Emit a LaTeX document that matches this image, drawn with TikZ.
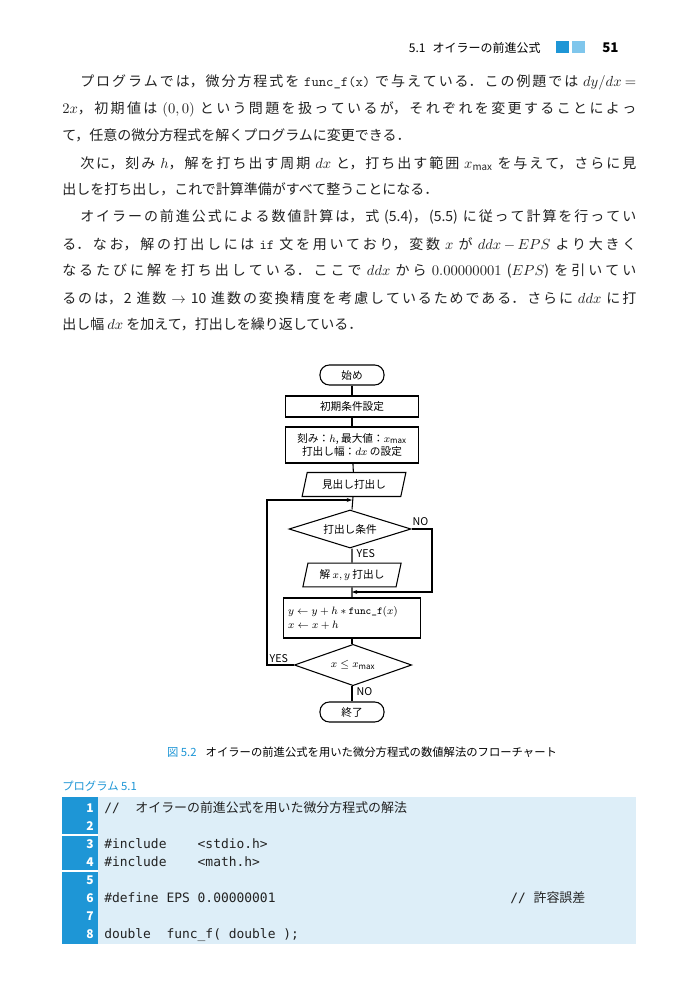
\documentclass[tikz,border=0pt]{standalone}
\usepackage{fontspec}
\setmainfont{Noto Sans CJK JP}
\newfontfamily\codefont{DejaVu Sans Mono}
\usetikzlibrary{shapes.geometric,arrows.meta}
\XeTeXlinebreaklocale "ja"
\XeTeXlinebreakskip=0pt plus 3pt
\definecolor{bl}{HTML}{1E96D6}
\definecolor{bll}{HTML}{7FC6EC}
\definecolor{codebg}{HTML}{DDEEF8}
\definecolor{txt}{HTML}{222222}
\newcommand{\jline}[2]{\parbox{#1}{\parindent=0pt\parfillskip=0pt\tolerance=10000\hbadness=10000\spaceskip=0.3em plus 0.1em\xspaceskip=0.3em\medmuskip=3mu\thickmuskip=4mu #2}}
\newcommand{\fl}[1]{\jline{430.5pt}{#1}}
\newcommand{\il}[1]{\jline{417pt}{#1}}
\begin{document}
\begin{tikzpicture}[x=0.75pt,y=-0.75pt,
  ln/.style={anchor=base west,inner sep=0,font=\fontsize{10.5}{12}\selectfont,text=txt},
  fbox/.style={draw,thick,minimum width=100pt,align=center,font=\fontsize{8}{10}\selectfont,inner sep=2pt},
  term/.style={draw,thick,rounded corners=7pt,minimum width=48pt,minimum height=15pt,font=\fontsize{8}{9}\selectfont},
  io/.style={draw,thick,trapezium,trapezium left angle=78,trapezium right angle=102,minimum height=15pt,font=\fontsize{8}{9}\selectfont},
  dec/.style={draw,thick,diamond,inner sep=0pt,font=\fontsize{8}{9}\selectfont},
  lab/.style={font=\fontsize{8}{9}\selectfont,inner sep=1pt},
  cd/.style={anchor=base west,inner sep=0,font=\codefont\fontsize{9.7}{10}\selectfont,text=txt},
  num/.style={anchor=base east,inner sep=0,text=white,font=\bfseries\fontsize{9}{10}\selectfont},
  line/.style={thick},
  arr/.style={thick,-{Stealth[length=4pt]}}]
\useasboundingbox (0,0) rectangle (699,1000);
\fill[white] (0,0) rectangle (699,1000);
% header
\node[anchor=base east,inner sep=0,font=\fontsize{9}{10}\selectfont] (hd) at (541,52) {5.1\hspace{0.6em}オイラーの前進公式};
\fill[bl] (556,41) rectangle (569,53);
\fill[bll] (572,41) rectangle (585,53);
\node[anchor=base west,inner sep=0,font=\bfseries\fontsize{10}{10}\selectfont] (pg) at (602,52) {51};
% body
\node[ln] (l1) at (80,86) {\il{プログラムでは，微分方程式を \texttt{func\_f(x)} で与えている．この例題では $dy/dx=$}};
\node[ln] (l2) at (62,113) {\fl{$2x$，初期値は $(0,0)$ という問題を扱っているが，それぞれを変更することによっ}};
\node[ln] (l3) at (62,140) {て，任意の微分方程式を解くプログラムに変更できる．};
\node[ln] (l4) at (80,167) {\il{次に，刻み $h$，解を打ち出す周期 $dx$ と，打ち出す範囲 $x_{\max}$ を与えて，さらに見}};
\node[ln] (l5) at (62,194) {出しを打ち出し，これで計算準備がすべて整うことになる．};
\node[ln] (l6) at (80,221) {\il{オイラーの前進公式による数値計算は，式 (5.4)，(5.5) に従って計算を行ってい}};
\node[ln] (l7) at (62,248) {\fl{る．なお，解の打出しには \texttt{if} 文を用いており，変数 $x$ が $ddx-EPS$ より大きく}};
\node[ln] (l8) at (62,275) {\fl{なるたびに解を打ち出している．ここで $ddx$ から $0.00000001$ ($EPS$) を引いてい}};
\node[ln] (l9) at (62,302) {\fl{るのは，2 進数 $\rightarrow$ 10 進数の変換精度を考慮しているためである．さらに $ddx$ に打}};
\node[ln] (l10) at (62,329) {出し幅 $dx$ を加えて，打出しを繰り返している．};
% flowchart
\node[term] (st) at (352,375) {始め};
\node[fbox,minimum height=15.75pt,minimum width=100pt] (init) at (352,406.5) {初期条件設定};
\node[fbox,minimum height=27pt,minimum width=100pt,font=\fontsize{8}{10}\selectfont] (set) at (352,445) {刻み：$h$, 最大値：$x_{\max}$\\打出し幅：$dx$ の設定};
\node[io,minimum width=78pt] (hdr) at (354,484.5) {見出し打出し};
\coordinate (j1) at (352,500);
\node[dec,aspect=3.2,minimum width=91.5pt,minimum height=28.5pt] (c1) at (350,529) {打出し条件};
\node[io,minimum width=74pt] (out) at (352,575) {解 $x,y$ 打出し};
\coordinate (j2) at (352,592);
\node[fbox,minimum height=30pt,minimum width=103pt,align=left,text width=96pt] (upd) at (352,618) {$y\leftarrow y+h\ast{}$\texttt{func\_f}$(x)$\\$x\leftarrow x+h$};
\node[dec,aspect=2.85,minimum width=88pt,minimum height=31pt] (c2) at (353,665) {$x\le x_{\max}$};
\node[term] (en) at (352,712) {終了};
\draw[line] (st) -- (init);
\draw[line] (init) -- (set);
\draw[line] (set) -- (hdr);
\draw[line] (hdr) -- (c1.north -| j1);
\draw[line] (c1.south -| out) -- (out);
\draw[line] (out) -- (upd);
\draw[line] (upd) -- (c2.north -| upd);
\draw[line] (c2.south -| en) -- (en);
\draw[arr] (c1.east) -- (432,529) |- (j2);
\draw[arr] (c2.west) -- (267,665) |- (j1);
\node[lab,anchor=south west] at (411,527) {NO};
\node[lab,anchor=north west] at (355,548) {YES};
\node[lab,anchor=south west] at (268,664) {YES};
\node[lab,anchor=north west] at (355,686) {NO};
% caption
\node[anchor=base,inner sep=0,font=\fontsize{8.5}{10}\selectfont] (cap) at (362,756) {\textcolor{bl}{図 5.2}\hspace{0.8em}オイラーの前進公式を用いた微分方程式の数値解法のフローチャート};
\node[anchor=base west,inner sep=0,font=\fontsize{8.5}{10}\selectfont,text=bl] (prog) at (62,790) {プログラム 5.1};
% code box
\fill[codebg] (62,797) rectangle (636,944);
\fill[bl] (62,797) rectangle (98,944);
\draw[white,thick] (62,835) -- (98,835) (62,871) -- (98,871);
\foreach \i/\t in {1/{// \hspace{0.6em}{\rmfamily オイラーの前進公式を用いた微分方程式の解法}},2/{},3/{\#include\ \ \ \ <stdio.h>},4/{\#include\ \ \ \ <math.h>},5/{},6/{\#define EPS 0.00000001},7/{},8/{double\ \ func\_f( double );}}{
  \node[num] (n\i) at (94,{794+18*\i}) {\i};
  \node[cd] (c\i) at (104,{794+18*\i}) {\t};
}
\node[cd] (cm) at (510,902) {// {\rmfamily 許容誤差}};
\end{tikzpicture}
\end{document}
